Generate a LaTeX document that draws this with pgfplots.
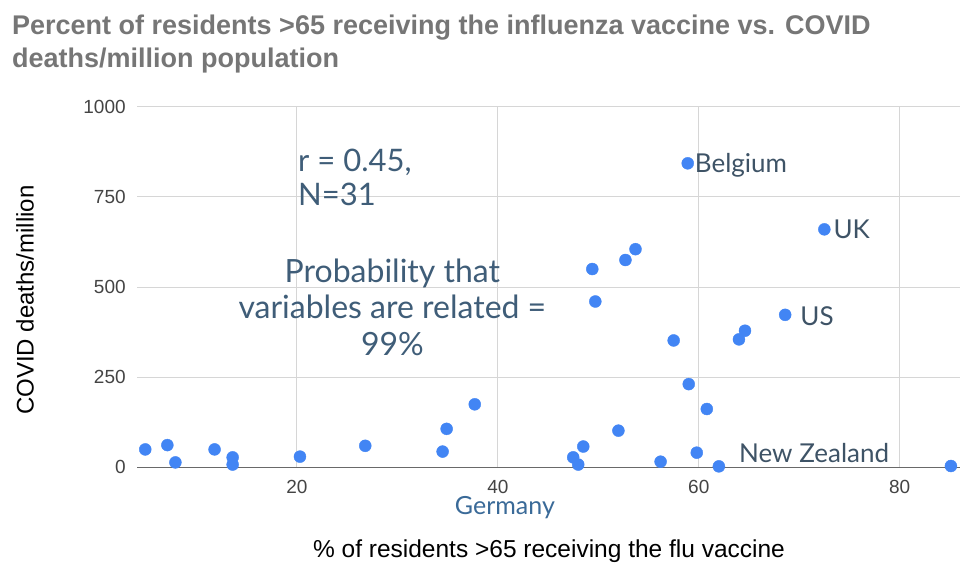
\documentclass[border=0pt]{standalone}
\usepackage{pgfplots}
\pgfplotsset{compat=1.18}
\usepackage{fontspec}
\setmainfont{Liberation Sans}
\newfontfamily\lato{Lato}
\definecolor{dotblue}{HTML}{4285F4}
\definecolor{annot}{HTML}{3F5D78}
\definecolor{lbl}{HTML}{3E5366}
\definecolor{germ}{HTML}{3A6A98}
\definecolor{titlegray}{HTML}{767676}
\definecolor{gridgray}{HTML}{D6D6D6}
\definecolor{ticklab}{HTML}{444444}
\begin{document}
\begin{tikzpicture}
\begin{axis}[
  scale only axis, width=822.8pt, height=360.8pt,
  xmin=4.1, xmax=86, ymin=0, ymax=1000,
  axis line style={draw=none},
  xtick={20,40,60,80}, ytick={0,250,500,750,1000},
  grid=major, major grid style={gridgray, line width=1pt},
  tick style={draw=none},
  clip=false,
  /pgf/number format/assume math mode=true,
  ticklabel style={font=\fontsize{19}{19}\selectfont, text=ticklab},
  xticklabel style={yshift=-9pt},
  yticklabel style={xshift=-8pt},
  xticklabels={20,40,60,80},
  yticklabels={0,250,500,750,1000},
]
\path[use as bounding box] (rel axis cs:-0.1668,-0.2813) rectangle (rel axis cs:1.0049,1.2957);
\draw[ticklab!80, line width=1.6pt] (rel axis cs:0,0) -- (rel axis cs:1,0);
\addplot[only marks, mark=*, mark size=6pt, dotblue, mark options={draw=dotblue, fill=dotblue}] coordinates {
(4.9,50) (7.1,62) (7.9,14) (11.8,50) (13.6,28) (13.6,8) (20.3,30) (26.8,60)
(34.5,44) (34.9,107) (37.7,175)
(47.5,28) (48.0,8) (48.5,58) (52.0,102) (56.2,16) (59.0,231) (60.8,162) (59.8,41) (62.0,3)
(49.4,550) (52.7,575) (53.7,605) (49.7,460) (57.5,352) (64.0,355) (64.6,379)
(68.6,423) (85.1,4)
(58.9,843) (72.5,660)
};
\node[anchor=west, text=lbl, font=\lato\fontsize{26}{26}\selectfont, inner sep=0pt] at (axis cs:59.6,838) {Belgium};
\node[anchor=west, text=lbl, font=\lato\fontsize{26}{26}\selectfont, inner sep=0pt] at (axis cs:73.4,661) {UK};
\node[anchor=west, text=lbl, font=\lato\fontsize{26}{26}\selectfont, inner sep=0pt] at (axis cs:70.1,419) {US};
\node[anchor=west, text=lbl, font=\lato\fontsize{26}{26}\selectfont, inner sep=0pt] at (axis cs:64.0,40) {New Zealand};
\node[anchor=center, text=germ, font=\lato\fontsize{25}{25}\selectfont, inner sep=0pt] at (axis cs:40.7,-112) {Germany};
\node[anchor=north west, align=left, text=annot, font=\lato\fontsize{31}{34}\selectfont, inner sep=0pt] at (axis cs:20.1,884) {r = 0.45,\\N=31};
\node[anchor=center, align=center, text=annot, font=\lato\fontsize{32}{36.5}\selectfont, inner sep=0pt] at (axis cs:29.5,445) {Probability that\\variables are related =\\99\%};
\node[anchor=base west, align=left, text=titlegray, font=\bfseries\fontsize{27}{33}\selectfont, inner sep=0pt] at (rel axis cs:-0.1522,1.1073) {Percent of residents >65 receiving the influenza vaccine vs. COVID\\deaths/million population};
\node[rotate=90, anchor=center, font=\fontsize{24}{24}\selectfont, inner sep=0pt] at (rel axis cs:-0.1364,0.464) {COVID deaths/million};
\node[anchor=center, font=\fontsize{24.5}{24.5}\selectfont, inner sep=0pt] at (rel axis cs:0.5005,-0.2314) {\% of residents >65 receiving the flu vaccine};
\end{axis}
\end{tikzpicture}
\end{document}
